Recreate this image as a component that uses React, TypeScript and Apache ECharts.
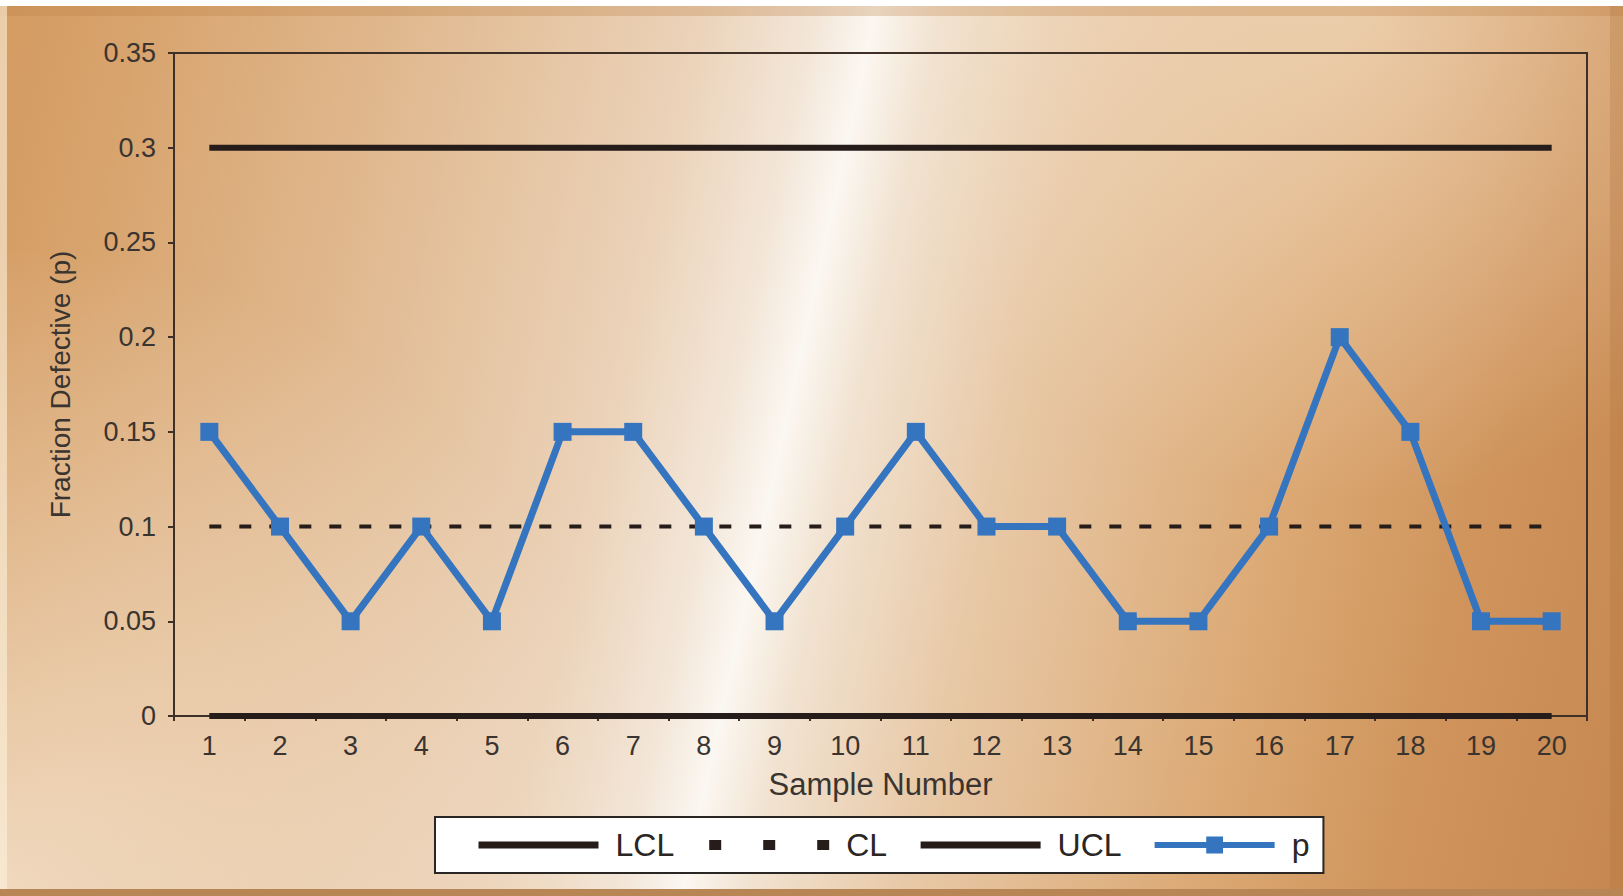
import React, { useEffect, useRef } from "react";
import * as echarts from "echarts";

// Sample numbers along the x axis
const samples = ["1", "2", "3", "4", "5", "6", "7", "8", "9", "10", "11", "12", "13", "14", "15", "16", "17", "18", "19", "20"];
// Fraction defective per sample
const fractionDefective = [0.15, 0.1, 0.05, 0.1, 0.05, 0.15, 0.15, 0.1, 0.05, 0.1, 0.15, 0.1, 0.1, 0.05, 0.05, 0.1, 0.2, 0.15, 0.05, 0.05];
// Control limits
const lowerControlLimit = 0;
const centerLine = 0.1;
const upperControlLimit = 0.3;
// Value axis range
const yMin = 0;
const yMax = 0.35;
const yStep = 0.05;

const FONT = "'Liberation Sans', Arial, Helvetica, sans-serif";
const TEXT = "#3a3430";
const INK = "#261d1a";
const BLUE = "#3574bf";

export default function App() {
  const ref = useRef<HTMLDivElement>(null);

  useEffect(() => {
    document.body.style.margin = "0";
    if (!ref.current) return;
    const chart = echarts.init(ref.current, null, { renderer: "svg" });
    const W = 1623;
    const H = 896;

    // Metallic backdrop: tan edges with a bright diagonal sheen
    const base = new echarts.graphic.LinearGradient(0, 0, 1735, 382, [
      { offset: 0, color: "#d49a62" },
      { offset: 0.08, color: "#d8a46e" },
      { offset: 0.22, color: "#e0b88e" },
      { offset: 0.384, color: "#ebd2b8" },
      { offset: 0.45, color: "#f3e6d8" },
      { offset: 0.483, color: "#fbf7f1" },
      { offset: 0.52, color: "#f1e2d0" },
      { offset: 0.604, color: "#e8c9a7" },
      { offset: 0.77, color: "#dba873" },
      { offset: 0.88, color: "#cf935b" },
      { offset: 1, color: "#c68850" },
    ], true);
    const glowBottomLeft = new echarts.graphic.RadialGradient(0, H, 650, [
      { offset: 0, color: "rgba(250,238,222,0.7)" },
      { offset: 1, color: "rgba(250,238,222,0)" },
    ], true);
    const glowTopRight = new echarts.graphic.RadialGradient(1350, 0, 500, [
      { offset: 0, color: "rgba(246,228,205,0.6)" },
      { offset: 1, color: "rgba(246,228,205,0)" },
    ], true);

    const constant = (v: number) => samples.map(() => v);

    chart.setOption({
      animation: false,
      textStyle: { fontFamily: FONT },
      graphic: [
        { type: "rect", z: -100, silent: true, shape: { x: 0, y: 0, width: W, height: H }, style: { fill: base } },
        { type: "rect", z: -99, silent: true, shape: { x: 0, y: 0, width: W, height: H }, style: { fill: glowBottomLeft } },
        { type: "rect", z: -99, silent: true, shape: { x: 0, y: 0, width: W, height: H }, style: { fill: glowTopRight } },
        { type: "rect", z: -98, silent: true, shape: { x: 0, y: 6, width: W, height: 10 }, style: { fill: "rgba(190,130,70,0.3)" } },
        { type: "rect", z: -98, silent: true, shape: { x: 0, y: 0, width: 7, height: H }, style: { fill: "rgba(252,242,220,0.6)" } },
        { type: "rect", z: -98, silent: true, shape: { x: 1610, y: 0, width: 13, height: H }, style: { fill: "rgba(170,110,60,0.25)" } },
        { type: "rect", z: -98, silent: true, shape: { x: 0, y: 889, width: W, height: 7 }, style: { fill: "#b88654" } },
        { type: "rect", z: -97, silent: true, shape: { x: 0, y: 0, width: W, height: 6 }, style: { fill: "#ffffff" } },
      ],
      grid: {
        left: 174,
        top: 53,
        right: 36,
        bottom: 180,
        show: true,
        backgroundColor: "transparent",
        borderColor: "#3e3026",
        borderWidth: 2,
      },
      legend: {
        left: 435,
        top: 817,
        orient: "horizontal",
        backgroundColor: "#ffffff",
        borderColor: "#2a2624",
        borderWidth: 2,
        borderRadius: 0,
        padding: [12, 14, 12, 40],
        itemWidth: 120,
        itemHeight: 21,
        itemGap: 30,
        textStyle: { fontSize: 32, color: "#2a2624", fontFamily: FONT, padding: [0, 0, 0, 12] },
        data: [
          { name: "LCL", itemStyle: { opacity: 0 }, lineStyle: { width: 7, color: INK, type: "solid" } },
          { name: "CL", itemStyle: { opacity: 0 }, lineStyle: { width: 10, color: INK, type: [12, 42] } },
          { name: "UCL", itemStyle: { opacity: 0 }, lineStyle: { width: 7, color: INK, type: "solid" } },
          { name: "p", itemStyle: { color: BLUE }, lineStyle: { width: 6, color: BLUE } },
        ],
      },
      xAxis: {
        type: "category",
        data: samples,
        boundaryGap: true,
        name: "Sample Number",
        nameLocation: "middle",
        nameGap: 53,
        nameTextStyle: { fontSize: 31, color: TEXT, fontFamily: FONT },
        axisLine: { show: true, lineStyle: { color: "#3e3026", width: 2 } },
        axisTick: { show: true, length: 5, lineStyle: { color: "#3e3026", width: 2 } },
        axisLabel: { fontSize: 27, color: TEXT, margin: 16, fontFamily: FONT },
        splitLine: { show: false },
      },
      yAxis: {
        type: "value",
        min: yMin,
        max: yMax,
        interval: yStep,
        name: "Fraction Defective (p)",
        nameLocation: "middle",
        nameGap: 100,
        nameTextStyle: { fontSize: 28, color: TEXT, fontFamily: FONT },
        axisLine: { show: true, lineStyle: { color: "#3e3026", width: 2 } },
        axisTick: { show: true, length: 6, lineStyle: { color: "#3e3026", width: 2 } },
        axisLabel: {
          fontSize: 27,
          color: TEXT,
          margin: 18,
          fontFamily: FONT,
          formatter: (v: number) => String(Number(v.toFixed(2))),
        },
        splitLine: { show: false },
      },
      series: [
        {
          name: "LCL",
          type: "line",
          data: constant(lowerControlLimit),
          symbol: "none",
          lineStyle: { color: INK, width: 6 },
          z: 3,
        },
        {
          name: "CL",
          type: "line",
          data: constant(centerLine),
          symbol: "none",
          lineStyle: { color: INK, width: 4, type: [12, 18] },
          z: 3,
        },
        {
          name: "UCL",
          type: "line",
          data: constant(upperControlLimit),
          symbol: "none",
          lineStyle: { color: INK, width: 6 },
          z: 3,
        },
        {
          name: "p",
          type: "line",
          data: fractionDefective,
          symbol: "rect",
          symbolSize: 18,
          itemStyle: { color: BLUE },
          lineStyle: { color: BLUE, width: 7 },
          z: 4,
        },
      ],
    });

    return () => chart.dispose();
  }, []);

  return <div ref={ref} style={{ width: 1623, height: 896 }} />;
}
